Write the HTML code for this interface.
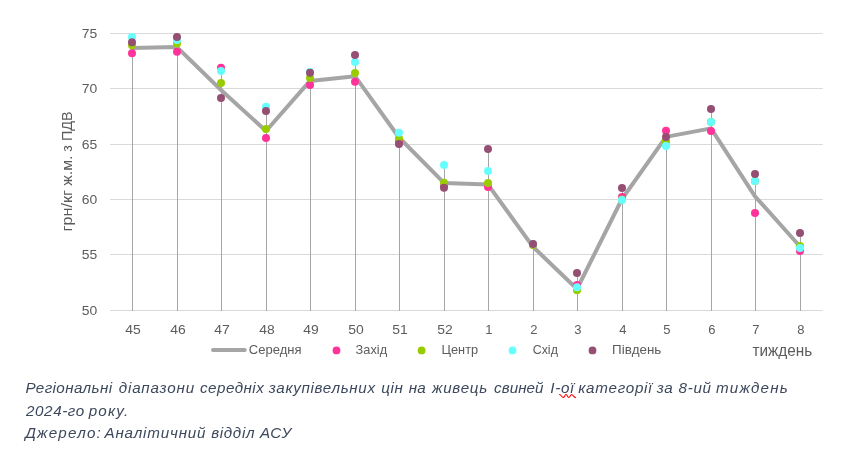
<!DOCTYPE html>
<html lang="uk">
<head>
<meta charset="utf-8">
<title>Регіональні діапазони середніх закупівельних цін</title>
<style>
html,body{margin:0;padding:0;background:#fff;}
body{width:848px;height:460px;overflow:hidden;position:relative;font-family:"Liberation Sans",sans-serif;}
svg{position:absolute;left:0;top:0;display:block;}
text{font-family:"Liberation Sans",sans-serif;}
.ax{font-size:13px;fill:#5C5C5C;}
.lg{font-size:12.4px;fill:#5C5C5C;}
.ti{font-size:15.5px;fill:#5C5C5C;}
.ti2{font-size:16.2px;fill:#5C5C5C;}
.cap{font-size:15.2px;font-style:italic;fill:#3C485C;}
</style>
</head>
<body>
<svg width="848" height="460" viewBox="0 0 848 460">
<rect x="0" y="0" width="848" height="460" fill="#ffffff"/>

<g stroke="#D9D9D9" stroke-width="1" fill="none">
<line x1="110" y1="33.5" x2="822.6" y2="33.5"/>
<line x1="110" y1="88.5" x2="822.6" y2="88.5"/>
<line x1="110" y1="144.5" x2="822.6" y2="144.5"/>
<line x1="110" y1="199.5" x2="822.6" y2="199.5"/>
<line x1="110" y1="254.5" x2="822.6" y2="254.5"/>
<line x1="110" y1="310.5" x2="822.6" y2="310.5"/>
</g>
<g stroke="#A6A6A6" stroke-width="1" fill="none">
<line x1="132.50" y1="37.1" x2="132.50" y2="311"/>
<line x1="177.50" y1="37.0" x2="177.50" y2="311"/>
<line x1="221.50" y1="67.7" x2="221.50" y2="311"/>
<line x1="266.50" y1="106.8" x2="266.50" y2="311"/>
<line x1="310.50" y1="72.0" x2="310.50" y2="311"/>
<line x1="355.50" y1="55.0" x2="355.50" y2="311"/>
<line x1="399.50" y1="132.8" x2="399.50" y2="311"/>
<line x1="444.50" y1="165.0" x2="444.50" y2="311"/>
<line x1="488.50" y1="149.1" x2="488.50" y2="311"/>
<line x1="533.50" y1="243.9" x2="533.50" y2="311"/>
<line x1="577.50" y1="273.0" x2="577.50" y2="311"/>
<line x1="622.50" y1="188.0" x2="622.50" y2="311"/>
<line x1="666.50" y1="130.7" x2="666.50" y2="311"/>
<line x1="711.50" y1="108.9" x2="711.50" y2="311"/>
<line x1="755.50" y1="173.9" x2="755.50" y2="311"/>
<line x1="800.50" y1="233.0" x2="800.50" y2="311"/>
</g>
<polyline points="132.00,47.9 177.00,47.1 221.00,90.0 266.00,131.0 310.00,80.9 355.00,76.2 399.00,137.5 444.00,182.9 488.00,184.6 533.00,246.8 577.00,289.0 622.00,199.0 666.00,136.9 711.00,128.4 755.00,196.3 800.00,246.5" fill="none" stroke="#A5A5A5" stroke-width="4" stroke-linejoin="round" stroke-linecap="round"/>
<g fill="#FF3399">
<circle cx="132.00" cy="53.2" r="4.0"/>
<circle cx="177.00" cy="51.8" r="4.0"/>
<circle cx="221.00" cy="67.7" r="4.0"/>
<circle cx="266.00" cy="138.0" r="4.0"/>
<circle cx="310.00" cy="84.9" r="4.0"/>
<circle cx="355.00" cy="81.8" r="4.0"/>
<circle cx="399.00" cy="141.0" r="4.0"/>
<circle cx="444.00" cy="185.5" r="4.0"/>
<circle cx="488.00" cy="187.1" r="4.0"/>
<circle cx="533.00" cy="244.6" r="4.0"/>
<circle cx="577.00" cy="285.0" r="4.0"/>
<circle cx="622.00" cy="197.0" r="4.0"/>
<circle cx="666.00" cy="130.7" r="4.0"/>
<circle cx="711.00" cy="130.9" r="4.0"/>
<circle cx="755.00" cy="213.0" r="4.0"/>
<circle cx="800.00" cy="251.0" r="4.0"/>
</g>
<g fill="#99CC00">
<circle cx="132.00" cy="45.2" r="4.0"/>
<circle cx="177.00" cy="43.4" r="4.0"/>
<circle cx="221.00" cy="83.0" r="4.0"/>
<circle cx="266.00" cy="129.0" r="4.0"/>
<circle cx="310.00" cy="77.9" r="4.0"/>
<circle cx="355.00" cy="73.0" r="4.0"/>
<circle cx="399.00" cy="138.5" r="4.0"/>
<circle cx="444.00" cy="182.8" r="4.0"/>
<circle cx="488.00" cy="182.9" r="4.0"/>
<circle cx="533.00" cy="245.0" r="4.0"/>
<circle cx="577.00" cy="290.2" r="4.0"/>
<circle cx="622.00" cy="199.5" r="4.0"/>
<circle cx="666.00" cy="141.4" r="4.0"/>
<circle cx="711.00" cy="122.1" r="4.0"/>
<circle cx="755.00" cy="181.1" r="4.0"/>
<circle cx="800.00" cy="245.9" r="4.0"/>
</g>
<g fill="#66FFFF">
<circle cx="132.00" cy="37.1" r="4.0"/>
<circle cx="177.00" cy="39.9" r="4.0"/>
<circle cx="221.00" cy="71.0" r="4.0"/>
<circle cx="266.00" cy="106.8" r="4.0"/>
<circle cx="310.00" cy="72.0" r="4.0"/>
<circle cx="355.00" cy="62.0" r="4.0"/>
<circle cx="399.00" cy="132.8" r="4.0"/>
<circle cx="444.00" cy="165.0" r="4.0"/>
<circle cx="488.00" cy="170.9" r="4.0"/>
<circle cx="533.00" cy="243.9" r="4.0"/>
<circle cx="577.00" cy="287.2" r="4.0"/>
<circle cx="622.00" cy="200.0" r="4.0"/>
<circle cx="666.00" cy="146.1" r="4.0"/>
<circle cx="711.00" cy="121.9" r="4.0"/>
<circle cx="755.00" cy="181.1" r="4.0"/>
<circle cx="800.00" cy="247.9" r="4.0"/>
</g>
<g fill="#954F72">
<circle cx="132.00" cy="42.2" r="4.0"/>
<circle cx="177.00" cy="37.0" r="4.0"/>
<circle cx="221.00" cy="98.0" r="4.0"/>
<circle cx="266.00" cy="111.0" r="4.0"/>
<circle cx="310.00" cy="72.8" r="4.0"/>
<circle cx="355.00" cy="55.0" r="4.0"/>
<circle cx="399.00" cy="144.0" r="4.0"/>
<circle cx="444.00" cy="187.8" r="4.0"/>
<circle cx="488.00" cy="149.1" r="4.0"/>
<circle cx="533.00" cy="243.9" r="4.0"/>
<circle cx="577.00" cy="273.0" r="4.0"/>
<circle cx="622.00" cy="188.0" r="4.0"/>
<circle cx="666.00" cy="137.0" r="4.0"/>
<circle cx="711.00" cy="108.9" r="4.0"/>
<circle cx="755.00" cy="173.9" r="4.0"/>
<circle cx="800.00" cy="233.0" r="4.0"/>
</g>
<g class="ax">
<text x="81.7" y="38.1" textLength="15.5" lengthAdjust="spacingAndGlyphs">75</text>
<text x="81.7" y="93.1" textLength="15.5" lengthAdjust="spacingAndGlyphs">70</text>
<text x="81.7" y="149.1" textLength="15.5" lengthAdjust="spacingAndGlyphs">65</text>
<text x="81.7" y="204.1" textLength="15.5" lengthAdjust="spacingAndGlyphs">60</text>
<text x="81.7" y="259.1" textLength="15.5" lengthAdjust="spacingAndGlyphs">55</text>
<text x="81.7" y="315.1" textLength="15.5" lengthAdjust="spacingAndGlyphs">50</text>
</g>
<g class="ax" text-anchor="middle">
<text x="132.90" y="334.2" textLength="15.5" lengthAdjust="spacingAndGlyphs">45</text>
<text x="177.90" y="334.2" textLength="15.5" lengthAdjust="spacingAndGlyphs">46</text>
<text x="221.90" y="334.2" textLength="15.5" lengthAdjust="spacingAndGlyphs">47</text>
<text x="266.90" y="334.2" textLength="15.5" lengthAdjust="spacingAndGlyphs">48</text>
<text x="310.90" y="334.2" textLength="15.5" lengthAdjust="spacingAndGlyphs">49</text>
<text x="355.90" y="334.2" textLength="15.5" lengthAdjust="spacingAndGlyphs">50</text>
<text x="399.90" y="334.2" textLength="15.5" lengthAdjust="spacingAndGlyphs">51</text>
<text x="444.90" y="334.2" textLength="15.5" lengthAdjust="spacingAndGlyphs">52</text>
<text x="488.90" y="334.2">1</text>
<text x="533.90" y="334.2">2</text>
<text x="577.90" y="334.2">3</text>
<text x="622.90" y="334.2">4</text>
<text x="666.90" y="334.2">5</text>
<text x="711.90" y="334.2">6</text>
<text x="755.90" y="334.2">7</text>
<text x="800.90" y="334.2">8</text>
</g>
<text class="ti" transform="translate(72.4,231) rotate(-90)"><tspan x="-0.40" textLength="41.40" lengthAdjust="spacingAndGlyphs">грн/кг</tspan> <tspan x="45.30" textLength="30.00" lengthAdjust="spacingAndGlyphs">ж.м.</tspan> <tspan x="79.20" textLength="6.60" lengthAdjust="spacingAndGlyphs">з</tspan> <tspan x="90.00" textLength="29.60" lengthAdjust="spacingAndGlyphs">ПДВ</tspan></text>
<text class="ti2" x="752.40" y="356.00" textLength="59.90" lengthAdjust="spacingAndGlyphs">тиждень</text>
<line x1="213" y1="350" x2="244.7" y2="350" stroke="#A5A5A5" stroke-width="4" stroke-linecap="round"/>
<text class="lg" x="248.80" y="354.10" textLength="52.70" lengthAdjust="spacingAndGlyphs">Середня</text>
<circle cx="336.5" cy="350.4" r="3.9" fill="#FF3399"/>
<text class="lg" x="355.60" y="354.10" textLength="31.50" lengthAdjust="spacingAndGlyphs">Захід</text>
<circle cx="421.6" cy="350.4" r="3.9" fill="#99CC00"/>
<text class="lg" x="441.60" y="354.10" textLength="36.50" lengthAdjust="spacingAndGlyphs">Центр</text>
<circle cx="512.5" cy="350.4" r="3.9" fill="#66FFFF"/>
<text class="lg" x="532.70" y="354.10" textLength="25.20" lengthAdjust="spacingAndGlyphs">Схід</text>
<circle cx="592.5" cy="350.4" r="3.9" fill="#954F72"/>
<text class="lg" x="612.10" y="354.10" textLength="49.20" lengthAdjust="spacingAndGlyphs">Південь</text>
<text class="cap" y="392.6"><tspan x="25.50" textLength="86.50" lengthAdjust="spacing">Регіональні</tspan> <tspan x="118.75" textLength="75.50" lengthAdjust="spacing">діапазони</tspan> <tspan x="200.00" textLength="63.75" lengthAdjust="spacing">середніх</tspan> <tspan x="268.75" textLength="106.25" lengthAdjust="spacing">закупівельних</tspan> <tspan x="381.25" textLength="21.50" lengthAdjust="spacing">цін</tspan> <tspan x="408.75" textLength="17.00" lengthAdjust="spacing">на</tspan> <tspan x="432.00" textLength="55.25" lengthAdjust="spacing">живець</tspan> <tspan x="494.00" textLength="49.50" lengthAdjust="spacing">свиней</tspan> <tspan x="550.25" textLength="23.25" lengthAdjust="spacing">І-ої</tspan> <tspan x="578.25" textLength="73.25" lengthAdjust="spacing">категорії</tspan> <tspan x="656.75" textLength="16.00" lengthAdjust="spacing">за</tspan> <tspan x="678.50" textLength="32.50" lengthAdjust="spacing">8-ий</tspan> <tspan x="716.00" textLength="71.75" lengthAdjust="spacing">тиждень</tspan></text>
<text class="cap" y="415.8"><tspan x="26.00" textLength="58.20" lengthAdjust="spacing">2024-го</tspan> <tspan x="88.75" textLength="39.45" lengthAdjust="spacing">року.</tspan></text>
<text class="cap" y="438.3"><tspan x="25.20" textLength="75.60" lengthAdjust="spacing">Джерело:</tspan> <tspan x="104.50" textLength="101.00" lengthAdjust="spacing">Аналітичний</tspan> <tspan x="211.25" textLength="43.25" lengthAdjust="spacing">відділ</tspan> <tspan x="260.00" textLength="31.25" lengthAdjust="spacing">АСУ</tspan></text>
<path d="M559.6 394.5 C561 394.5 561.8 397.5 563.2 397.5 S564.8 394.5 566 394.5 S567.6 397.5 568.8 397.5 S570.4 394.5 571.6 394.5 S574 397.5 575.6 397.5" fill="none" stroke="#FF0000" stroke-width="1.15" stroke-linecap="round"/>
</svg>
</body>
</html>
